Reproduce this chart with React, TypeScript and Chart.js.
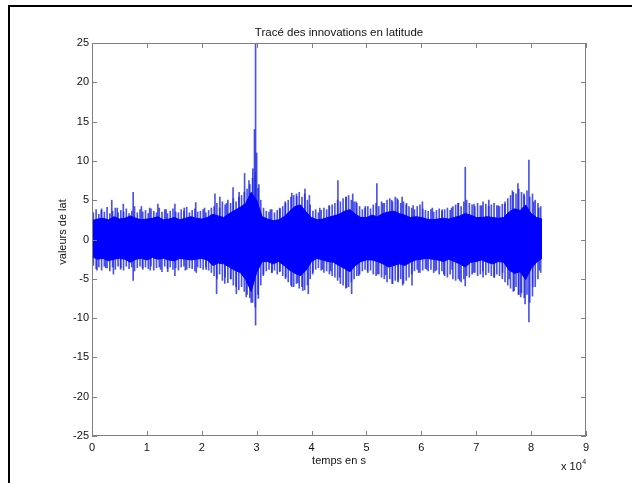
import React, { useEffect, useRef } from "react";
import { Chart, registerables } from "chart.js";

Chart.register(...registerables);

// Time step (s) between samples of the dense band
const T_STEP = 1000;

// Upper edge of the dense band, one value every 1000 s (0 .. 82000 s)
const coreHi = [
  2.4, 2.6, 2.7, 2.5, 2.9, 2.6, 2.7, 3.0, 2.7, 2.5,
  2.6, 2.7, 2.9, 2.5, 2.6, 2.8, 2.5, 2.7, 2.9, 2.7,
  2.6, 2.8, 3.2, 3.0, 2.8, 3.3, 3.7, 4.1, 4.6, 6.0,
  5.0, 2.9, 2.6, 2.4, 2.5, 2.9, 3.6, 4.2, 4.4, 3.5,
  2.8, 2.5, 2.6, 2.8, 3.0, 3.2, 3.6, 3.8, 3.2, 2.8,
  2.8, 3.1, 2.9, 3.3, 3.5, 3.6, 3.3, 3.1, 2.8, 2.9,
  2.8, 2.6, 2.5, 2.6, 2.7, 2.6, 2.8, 3.0, 3.3, 3.1,
  2.8, 2.8, 2.9, 2.8, 2.7, 2.8, 3.5, 3.9, 3.7, 4.4,
  3.3, 2.8, 2.6,
];

// Lower edge of the dense band, one value every 1000 s
const coreLo = [
  -2.2, -2.5, -2.4, -2.7, -2.5, -2.4, -2.5, -2.9, -2.5, -2.4,
  -2.6, -2.3, -2.5, -2.4, -2.6, -2.7, -2.4, -2.5, -2.6, -2.5,
  -2.4, -2.6, -3.3, -3.0, -3.1, -3.5, -3.9, -4.2, -5.1, -6.6,
  -4.2, -2.8, -2.8, -3.1, -2.8, -3.3, -3.9, -4.3, -4.6, -3.9,
  -2.8, -2.4, -2.6, -2.8, -2.9, -3.3, -3.7, -4.1, -3.3, -2.8,
  -2.6, -2.6, -2.8, -3.1, -3.5, -3.3, -3.1, -3.3, -2.9, -2.6,
  -2.5, -2.4, -2.5, -2.6, -2.8, -2.5, -2.8, -3.1, -3.5, -2.9,
  -2.8, -2.6, -2.9, -3.1, -2.8, -2.9, -3.9, -4.3, -4.1, -5.1,
  -3.7, -2.9, -2.4,
];

// Hairy fringe just outside the band, one value every 500 s (t = 250 + 500k)
const FRINGE_T0 = 250;
const FRINGE_STEP = 500;
const fringeUp = [
  3.4, 3.8, 3.2, 3.9, 3.5, 4.1, 3.3, 3.6, 4.0, 3.4,
  3.7, 3.5, 3.9, 3.3, 3.6, 4.2, 3.4, 3.8, 3.5, 3.7,
  3.3, 3.9, 3.6, 3.4, 4.0, 3.5, 3.8, 3.3, 3.6, 3.9,
  3.5, 3.4, 3.8, 3.6, 4.1, 3.4, 3.7, 3.9, 3.5, 3.6,
  3.8, 3.4, 3.7, 4.0,
  4.2, 4.6, 4.0, 4.8, 4.4, 5.0, 4.6, 5.2, 4.8, 5.4,
  5.6, 6.0, 6.4, 7.0, 7.8, 8.5, 6.5, 5.0,
  4.0, 3.6, 3.5, 3.8, 3.4, 3.7, 3.9, 4.2,
  4.6, 5.0, 5.4, 5.6, 5.8, 6.0, 5.4, 5.8, 5.0, 4.4,
  3.6, 3.8, 3.4, 3.7, 4.0, 3.8, 4.2, 4.4,
  4.6, 5.0, 4.8, 5.2, 5.4, 5.6, 5.0, 4.8, 4.6, 4.2,
  3.8, 4.0, 4.2, 3.9, 4.4, 4.6,
  4.2, 4.8, 4.6, 5.0, 5.2, 4.8, 5.4, 5.0, 4.6, 4.8, 4.4, 4.2,
  4.0, 3.8, 4.2, 4.4, 3.9, 3.7, 3.6, 3.8, 3.5, 3.7, 3.9, 3.6, 3.8, 4.0, 3.7, 4.2,
  4.4, 4.6, 4.2, 4.8, 5.0, 4.6, 4.4, 4.2, 4.6, 4.3, 4.8, 4.5, 4.2, 4.4, 4.6, 4.3, 4.2, 4.5,
  4.8, 5.2, 5.6, 6.0, 5.8, 6.4, 6.0, 5.6, 6.2, 5.4, 5.8, 5.0, 4.6, 4.2,
];
const fringeDown = [
  -3.3, -3.7, -3.5, -3.9, -3.4, -3.6, -4.0, -3.5, -3.8, -3.4,
  -3.6, -3.9, -3.4, -3.7, -3.5, -4.0, -3.6, -3.4, -3.8, -3.5,
  -3.7, -3.4, -3.9, -3.6, -3.5, -4.1, -3.4, -3.7, -3.5, -3.8,
  -3.6, -3.9, -3.5, -3.4, -3.8, -3.6, -3.7, -4.0, -3.5, -3.6,
  -3.8, -3.5, -3.9, -4.2,
  -4.6, -5.0, -4.4, -5.2, -4.8, -5.5, -5.0, -5.8, -6.0, -6.4,
  -6.0, -6.6, -7.0, -7.4, -8.0, -8.6, -7.0, -5.8,
  -4.4, -4.0, -3.8, -4.2, -3.9, -4.4, -4.0, -4.6,
  -5.0, -5.4, -5.8, -6.0, -5.6, -6.2, -6.0, -6.4, -5.8, -5.0,
  -4.2, -3.8, -3.6, -3.9, -4.2, -4.0, -4.4, -4.6,
  -4.8, -5.2, -5.6, -5.8, -6.2, -6.0, -5.4, -5.0, -4.6, -4.4,
  -4.0, -3.8, -4.2, -3.9, -4.4, -4.6,
  -4.4, -4.8, -5.0, -5.4, -5.0, -5.6, -5.2, -5.4, -5.0, -5.6, -5.2, -4.8,
  -4.4, -4.0, -3.8, -4.2, -3.9, -3.7, -4.0, -3.8, -4.2, -3.9, -4.4, -4.0, -4.6, -4.8, -4.4, -5.0,
  -5.2, -5.0, -5.4, -5.0, -4.6, -4.8, -4.4, -4.2, -4.6, -4.4, -4.8, -4.5, -4.2, -4.6, -4.8, -4.4, -4.6, -5.0,
  -5.4, -5.8, -6.2, -6.6, -6.0, -7.0, -6.8, -7.4, -7.0, -8.0, -7.2, -6.0, -5.0, -4.2,
];

// Isolated upward spikes (time in s, value)
const spikeUpT = [
  1700, 3600, 4600, 5700, 7500, 9000, 10500, 12000, 13500, 15100,
  16800, 18900, 20500, 22400, 23300, 24500, 25700, 26800, 27800, 28600,
  29300, 29600, 29800, 30000, 30400, 32500, 34200, 35200, 36400, 37300,
  38800, 39600, 41500, 43200, 44800, 46300, 47500, 48100, 49800, 51900,
  53000, 54600, 55600, 56500, 57300, 58500, 60200, 62000, 63800, 65500,
  66700, 68000, 69600, 71000, 72300, 74000, 75200, 76600, 77600, 78700,
  79600, 80500, 81400,
];
const spikeUpV = [
  3.7, 5.0, 4.0, 4.5, 6.0, 4.2, 4.0, 4.5, 3.8, 4.5,
  4.0, 4.7, 4.0, 5.8, 5.4, 4.6, 6.6, 6.0, 8.4, 7.5,
  9.0, 14.0, 25.0, 11.0, 7.0, 3.8, 4.0, 4.8, 5.9, 5.5,
  6.4, 5.6, 4.0, 4.3, 7.5, 5.4, 5.8, 4.8, 4.2, 7.1,
  4.6, 5.0, 5.2, 5.4, 4.6, 4.3, 4.8, 4.0, 3.8, 4.0,
  4.6, 9.2, 4.5, 4.3, 5.0, 4.3, 4.5, 6.2, 7.1, 5.8,
  10.1, 4.8, 4.0,
];

// Isolated downward spikes (time in s, value)
const spikeDownT = [
  900, 2500, 3900, 5200, 7500, 9200, 10600, 12500, 13800, 15100,
  17000, 19000, 20800, 22700, 24200, 25300, 26300, 28100, 29000, 29800,
  30300, 31200, 32800, 34200, 35300, 36400, 37500, 38400, 39400, 40200,
  42000, 43500, 45100, 46400, 47300, 48600, 50200, 52000, 53500, 54700,
  55800, 56600, 58300, 59500, 61000, 62500, 64100, 65600, 67000, 68000,
  69500, 71200, 73300, 74800, 76000, 76900, 77700, 78100, 78900, 79600,
  80300, 81500,
];
const spikeDownV = [
  -3.9, -3.6, -4.4, -3.8, -5.2, -3.6, -3.9, -3.8, -4.1, -4.6,
  -3.9, -4.2, -3.8, -6.9, -5.6, -5.0, -6.9, -7.3, -8.0, -10.9,
  -7.5, -4.6, -4.2, -4.1, -4.8, -6.0, -5.5, -6.5, -6.9, -4.4,
  -3.8, -4.0, -4.8, -6.1, -6.9, -4.6, -4.0, -4.4, -4.5, -5.6,
  -5.2, -5.8, -5.8, -4.2, -3.8, -4.0, -4.4, -3.8, -5.2, -5.9,
  -4.2, -4.0, -4.8, -4.2, -5.0, -6.5, -7.0, -7.3, -8.2, -10.5,
  -6.0, -3.9,
];

const X_MIN = 0;
const X_MAX = 90000;
const X_STEP = 10000;
const Y_MIN = -25;
const Y_MAX = 25;
const Y_STEP = 5;

const TITLE = "Tracé des innovations en latitude";
const X_LABEL = "temps en s";
const Y_LABEL = "valeurs de lat";
const X_EXP_BASE = "x 10";
const X_EXP = "4";

const FONT = '"Liberation Sans", Arial, Helvetica, sans-serif';
const BLUE = "#0000ff";
const HAIR = "rgba(30,40,225,0.8)";

const matlabPlugin = {
  id: "matlabDecor",
  afterDraw(chart: any) {
    const ctx = chart.ctx as CanvasRenderingContext2D;
    const { left, right, top, bottom } = chart.chartArea;
    const xs = chart.scales.x;
    const ys = chart.scales.y;
    ctx.save();
    // axes box
    ctx.strokeStyle = "#808080";
    ctx.lineWidth = 1;
    ctx.strokeRect(left + 0.5, top + 0.5, right - left - 1, bottom - top - 1);
    // inward ticks on all four sides
    ctx.beginPath();
    for (let v = X_MIN; v <= X_MAX; v += X_STEP) {
      const px = Math.round(xs.getPixelForValue(v)) + 0.5;
      ctx.moveTo(px, bottom);
      ctx.lineTo(px, bottom - 5);
      ctx.moveTo(px, top);
      ctx.lineTo(px, top + 5);
    }
    for (let v = Y_MIN; v <= Y_MAX; v += Y_STEP) {
      const py = Math.round(ys.getPixelForValue(v)) + 0.5;
      ctx.moveTo(left, py);
      ctx.lineTo(left + 5, py);
      ctx.moveTo(right, py);
      ctx.lineTo(right - 5, py);
    }
    ctx.stroke();

    // texts
    ctx.fillStyle = "#111";
    ctx.textAlign = "center";
    ctx.textBaseline = "middle";
    const cx = (left + right) / 2;
    ctx.font = `11.5px ${FONT}`;
    ctx.fillText(TITLE, cx, 33);
    ctx.font = `11px ${FONT}`;
    ctx.fillText(X_LABEL, cx, 461);
    ctx.save();
    ctx.translate(63, 232);
    ctx.rotate(-Math.PI / 2);
    ctx.fillText(Y_LABEL, 0, 0);
    ctx.restore();
    ctx.textAlign = "left";
    ctx.fillText(X_EXP_BASE, 561, 467);
    const w = ctx.measureText(X_EXP_BASE).width;
    ctx.font = `7px ${FONT}`;
    ctx.fillText(X_EXP, 561 + w + 0.5, 462);

    // outer black frame (top and left)
    ctx.fillStyle = "#000";
    ctx.fillRect(8, 5, 632 - 8, 2);
    ctx.fillRect(8, 5, 2, 483 - 5);
    ctx.restore();
  },
};

export default function App() {
  const ref = useRef<HTMLCanvasElement | null>(null);

  useEffect(() => {
    document.body.style.margin = "0";
    const canvas = ref.current;
    if (!canvas) return;

    const hiData = coreHi.map((v, i) => ({ x: i * T_STEP, y: v }));
    const loData = coreLo.map((v, i) => ({ x: i * T_STEP, y: v }));
    const fringeUpData = fringeUp.map((v, k) => ({ x: FRINGE_T0 + k * FRINGE_STEP, y: [0, v] }));
    const fringeDownData = fringeDown.map((v, k) => ({ x: FRINGE_T0 + k * FRINGE_STEP, y: [v, 0] }));
    const upData = spikeUpT.map((t, i) => ({ x: t, y: [0, spikeUpV[i]] }));
    const downData = spikeDownT.map((t, i) => ({ x: t, y: [spikeDownV[i], 0] }));

    const hairBar = (data: any[]) =>
      ({
        type: "bar",
        data,
        backgroundColor: HAIR,
        barThickness: 1,
        grouped: false,
      } as any);

    const chart = new Chart(canvas, {
      type: "line",
      data: {
        datasets: [
          {
            type: "line",
            data: hiData,
            borderColor: BLUE,
            backgroundColor: BLUE,
            borderWidth: 1,
            pointRadius: 0,
            fill: "+1",
            tension: 0,
          } as any,
          {
            type: "line",
            data: loData,
            borderColor: BLUE,
            backgroundColor: BLUE,
            borderWidth: 1,
            pointRadius: 0,
            fill: false,
            tension: 0,
          } as any,
          hairBar(fringeUpData),
          hairBar(fringeDownData),
          hairBar(upData),
          hairBar(downData),
        ],
      },
      options: {
        animation: false,
        responsive: false,
        devicePixelRatio: 1,
        layout: { padding: { left: 0, right: 46, top: 43, bottom: 0 } },
        plugins: {
          legend: { display: false },
          tooltip: { enabled: false },
          title: { display: false },
        },
        scales: {
          x: {
            type: "linear",
            min: X_MIN,
            max: X_MAX,
            offset: false,
            grid: { display: false, drawTicks: false },
            border: { display: false },
            ticks: {
              stepSize: X_STEP,
              autoSkip: false,
              maxRotation: 0,
              padding: 5,
              color: "#111",
              font: { family: FONT, size: 11 },
              callback: (v: any) => String(Number(v) / X_STEP),
            },
            afterFit: (s: any) => {
              s.height = 47;
            },
          },
          y: {
            type: "linear",
            min: Y_MIN,
            max: Y_MAX,
            grid: { display: false, drawTicks: false },
            border: { display: false },
            ticks: {
              stepSize: Y_STEP,
              autoSkip: false,
              padding: 3,
              color: "#111",
              font: { family: FONT, size: 11 },
            },
            afterFit: (s: any) => {
              s.width = 92;
            },
          },
        },
      } as any,
      plugins: [matlabPlugin],
    });

    return () => chart.destroy();
  }, []);

  return (
    <div style={{ position: "absolute", left: 0, top: 0, width: 632, height: 483, background: "#fff" }}>
      <canvas ref={ref} width={632} height={483} style={{ display: "block" }} />
    </div>
  );
}
